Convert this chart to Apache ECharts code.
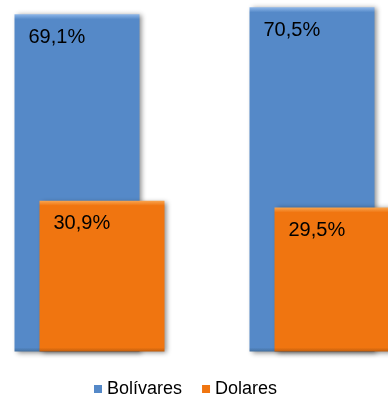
<!DOCTYPE html>
<html>
<head>
<meta charset="utf-8">
<script src="https://cdn.jsdelivr.net/npm/echarts@6/dist/echarts.min.js"></script>
<style>
  html, body { margin: 0; padding: 0; background: #ffffff; }
  #chart { width: 388px; height: 396px; }
</style>
</head>
<body>
<div id="chart"></div>
<script>
// Share of holdings by currency, two periods
const categories = ['A', 'B'];
const bolivares = [69.1, 70.5];
const dolares = [30.9, 29.5];
const seriesNames = ['Bolívares', 'Dolares'];

const BLUE = { base: '#5589C8', light: '#8FB8EA', dark: '#44709F' };
const ORANGE = { base: '#F07510', light: '#F9A651', dark: '#C15E0D' };
const FONT = '"Liberation Sans", Arial, sans-serif';

const Y_MAX = 72;
const PLOT_HEIGHT = 351.5;   // grid height in px (top 0, bottom 44.5)
const BEVEL = 5;             // bevel band thickness in px

const fmt = v => v.toFixed(1).replace('.', ',') + '%';

// Vertical gradient giving each bar a light top edge and a dark bottom edge
function bevelFill(value, c) {
  const h = value * PLOT_HEIGHT / Y_MAX;
  const f = BEVEL / h;
  return new echarts.graphic.LinearGradient(0, 0, 0, 1, [
    { offset: 0, color: c.light },
    { offset: f, color: c.base },
    { offset: 1 - f * 0.8, color: c.base },
    { offset: 1, color: c.dark }
  ]);
}

function barSeries(name, values, c) {
  return {
    name: name,
    type: 'bar',
    data: values.map(v => ({ value: v, itemStyle: { color: bevelFill(v, c) } })),
    barWidth: 125,
    barGap: '-80%',
    itemStyle: {
      color: c.base,
      shadowColor: 'rgba(0,0,0,0.45)',
      shadowBlur: 5,
      shadowOffsetX: 2,
      shadowOffsetY: 1
    },
    label: {
      show: true,
      position: [14, 13],
      formatter: p => fmt(p.value),
      color: '#000000',
      fontFamily: FONT,
      fontSize: 20
    },
    emphasis: { disabled: true }
  };
}

const chart = echarts.init(document.getElementById('chart'));
chart.setOption({
  animation: false,
  backgroundColor: '#ffffff',
  grid: { left: -28, width: 470, top: 0, bottom: 44.5, outerBoundsMode: 'none', containLabel: false },
  xAxis: {
    type: 'category',
    data: categories,
    show: false
  },
  yAxis: {
    type: 'value',
    min: 0,
    max: Y_MAX,
    show: false
  },
  legend: {
    left: 89,
    top: 375,
    itemWidth: 8,
    itemHeight: 8,
    itemGap: 20,
    icon: 'rect',
    textStyle: { fontFamily: FONT, fontSize: 18, color: '#000000' },
    data: [
      { name: seriesNames[0], itemStyle: { color: BLUE.base } },
      { name: seriesNames[1], itemStyle: { color: ORANGE.base } }
    ]
  },
  series: [
    barSeries(seriesNames[0], bolivares, BLUE),
    barSeries(seriesNames[1], dolares, ORANGE)
  ]
});
</script>
</body>
</html>
